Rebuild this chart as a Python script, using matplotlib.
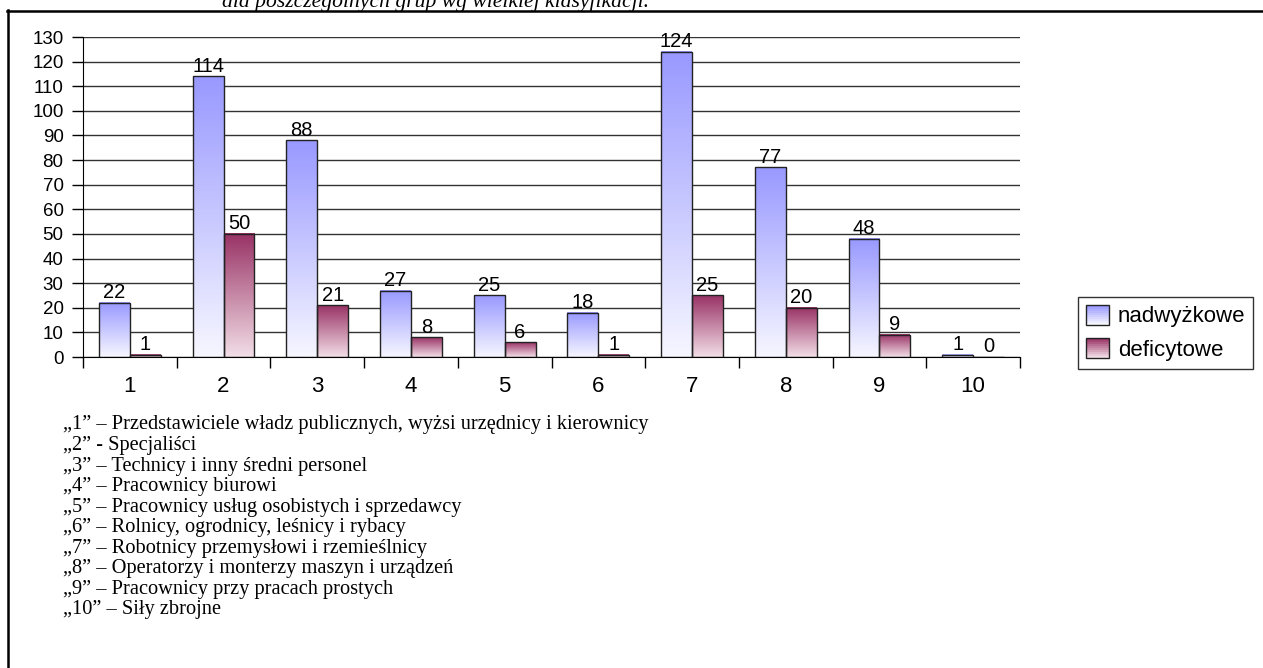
import matplotlib.pyplot as plt
import numpy as np
from matplotlib.legend_handler import HandlerBase
from matplotlib.patches import Rectangle
from matplotlib.lines import Line2D
from matplotlib.colors import to_rgb

categories = ['1', '2', '3', '4', '5', '6', '7', '8', '9', '10']
nadwyzkowe = [22, 114, 88, 27, 25, 18, 124, 77, 48, 1]
deficytowe = [1, 50, 21, 8, 6, 1, 25, 20, 9, 0]
series_names = ['nadwyżkowe', 'deficytowe']
yticks = list(range(0, 131, 10))
footnotes = [
    '\u201e1\u201d \u2013 Przedstawiciele władz publicznych, wyżsi urzędnicy i kierownicy',
    '\u201e2\u201d - Specjaliści',
    '\u201e3\u201d \u2013 Technicy i inny średni personel',
    '\u201e4\u201d \u2013 Pracownicy biurowi',
    '\u201e5\u201d \u2013 Pracownicy usług osobistych i sprzedawcy',
    '\u201e6\u201d \u2013 Rolnicy, ogrodnicy, leśnicy i rybacy',
    '\u201e7\u201d \u2013 Robotnicy przemysłowi i rzemieślnicy',
    '\u201e8\u201d \u2013 Operatorzy i monterzy maszyn i urządzeń',
    '\u201e9\u201d \u2013 Pracownicy przy pracach prostych',
    '\u201e10\u201d \u2013 Siły zbrojne',
]
caption = 'dla poszczególnych grup wg wielkiej klasyfikacji.'

# gradient colours (top, bottom) for each series
grad = [('#9999ff', '#f6f6ff'), ('#993366', '#f2dde6')]

W, H = 1263, 668
fig = plt.figure(figsize=(W / 100, H / 100), dpi=100)
ax = fig.add_axes([83 / W, 1 - 357 / H, (1020 - 83) / W, (357 - 37) / H])


def ramp(top, bottom, n=64):
    t = np.linspace(0, 1, n)[:, None]
    a, b = np.array(to_rgb(bottom)), np.array(to_rgb(top))
    return (a * (1 - t) + b * t)[:, None, :]


x = np.arange(len(categories)) + 0.5
bw = 0.33
for s, vals in enumerate([nadwyzkowe, deficytowe]):
    xs = x - bw + s * bw
    img = ramp(*grad[s])
    for xi, v in zip(xs, vals):
        if v > 0:
            ax.imshow(img, extent=[xi, xi + bw, 0, v], origin='lower',
                      aspect='auto', zorder=2, interpolation='bilinear')
    ax.bar(xs, vals, width=bw, align='edge', fill=False,
           edgecolor='#222222', linewidth=1, zorder=3)
    for xi, v in zip(xs, vals):
        ax.annotate(str(v), (xi + bw / 2, v), xytext=(0, 0.5),
                    textcoords='offset points', ha='center', va='bottom',
                    fontsize=14.5, family='Liberation Sans', zorder=4)

ax.set_xlim(0, len(categories))
ax.set_ylim(0, 130)
ax.set_aspect('auto')

ax.set_yticks(yticks)
ax.set_yticklabels([str(v) for v in yticks], family='Liberation Sans', fontsize=13.5)
ax.tick_params(axis='y', direction='out', length=8, width=1, pad=6)
ax.yaxis.grid(True, color='#333333', linewidth=1)
ax.set_axisbelow(True)

ax.set_xticks(np.arange(len(categories) + 1))
ax.set_xticklabels([])
ax.set_xticks(x, minor=True)
ax.set_xticklabels(categories, minor=True, family='Liberation Sans', fontsize=16)
ax.tick_params(axis='x', which='major', direction='out', length=8, width=1)
ax.tick_params(axis='x', which='minor', length=0, pad=14)

for side in ['top', 'right']:
    ax.spines[side].set_visible(False)
ax.spines['left'].set_color('black')
ax.spines['bottom'].set_color('black')


class GradientHandler(HandlerBase):
    def __init__(self, top, bottom):
        super().__init__()
        self.top, self.bottom = top, bottom

    def create_artists(self, legend, orig_handle, xdescent, ydescent,
                       width, height, fontsize, trans):
        arts = []
        n = 10
        a, b = np.array(to_rgb(self.bottom)), np.array(to_rgb(self.top))
        for k in range(n):
            t = (n - 1 - k) / (n - 1)
            c = a * (1 - t) + b * t
            arts.append(Rectangle((-xdescent, -ydescent + height * (n - 1 - k) / n),
                                  width, height / n, facecolor=c,
                                  edgecolor='none', transform=trans))
        arts.append(Rectangle((-xdescent, -ydescent), width, height, fill=False,
                              edgecolor='#222222', linewidth=1, transform=trans))
        return arts


handles = [Rectangle((0, 0), 1, 1) for _ in series_names]
hmap = {h: GradientHandler(*g) for h, g in zip(handles, grad)}
leg = fig.legend(handles, series_names, handler_map=hmap,
                 loc='upper left', bbox_to_anchor=(1078 / W, 1 - 297 / H),
                 bbox_transform=fig.transFigure, borderaxespad=0,
                 prop={'family': 'Liberation Sans', 'size': 16},
                 fancybox=False, frameon=True, handlelength=1.05,
                 handleheight=1.0, handletextpad=0.4, labelspacing=0.5,
                 borderpad=0.35)
leg.get_frame().set_edgecolor('black')
leg.get_frame().set_linewidth(1)

for i, line in enumerate(footnotes):
    fig.text(63 / W, 1 - (425 + i * 20.55) / H, line, family='Liberation Serif',
             fontsize=14.7, va='center', ha='left')

fig.text(435 / W, 1 - 6.5 / H, caption, family='Liberation Serif', style='italic',
         fontsize=15.6, ha='center', va='baseline')

# frame of the figure box
fig.add_artist(Line2D([8 / W, 8 / W], [0, 1 - 10 / H], color='black', linewidth=1.8,
                      transform=fig.transFigure))
fig.add_artist(Line2D([7 / W, 1], [1 - 11 / H, 1 - 11 / H], color='black', linewidth=1.8,
                      transform=fig.transFigure))

fig.savefig('out.png', dpi=100)
